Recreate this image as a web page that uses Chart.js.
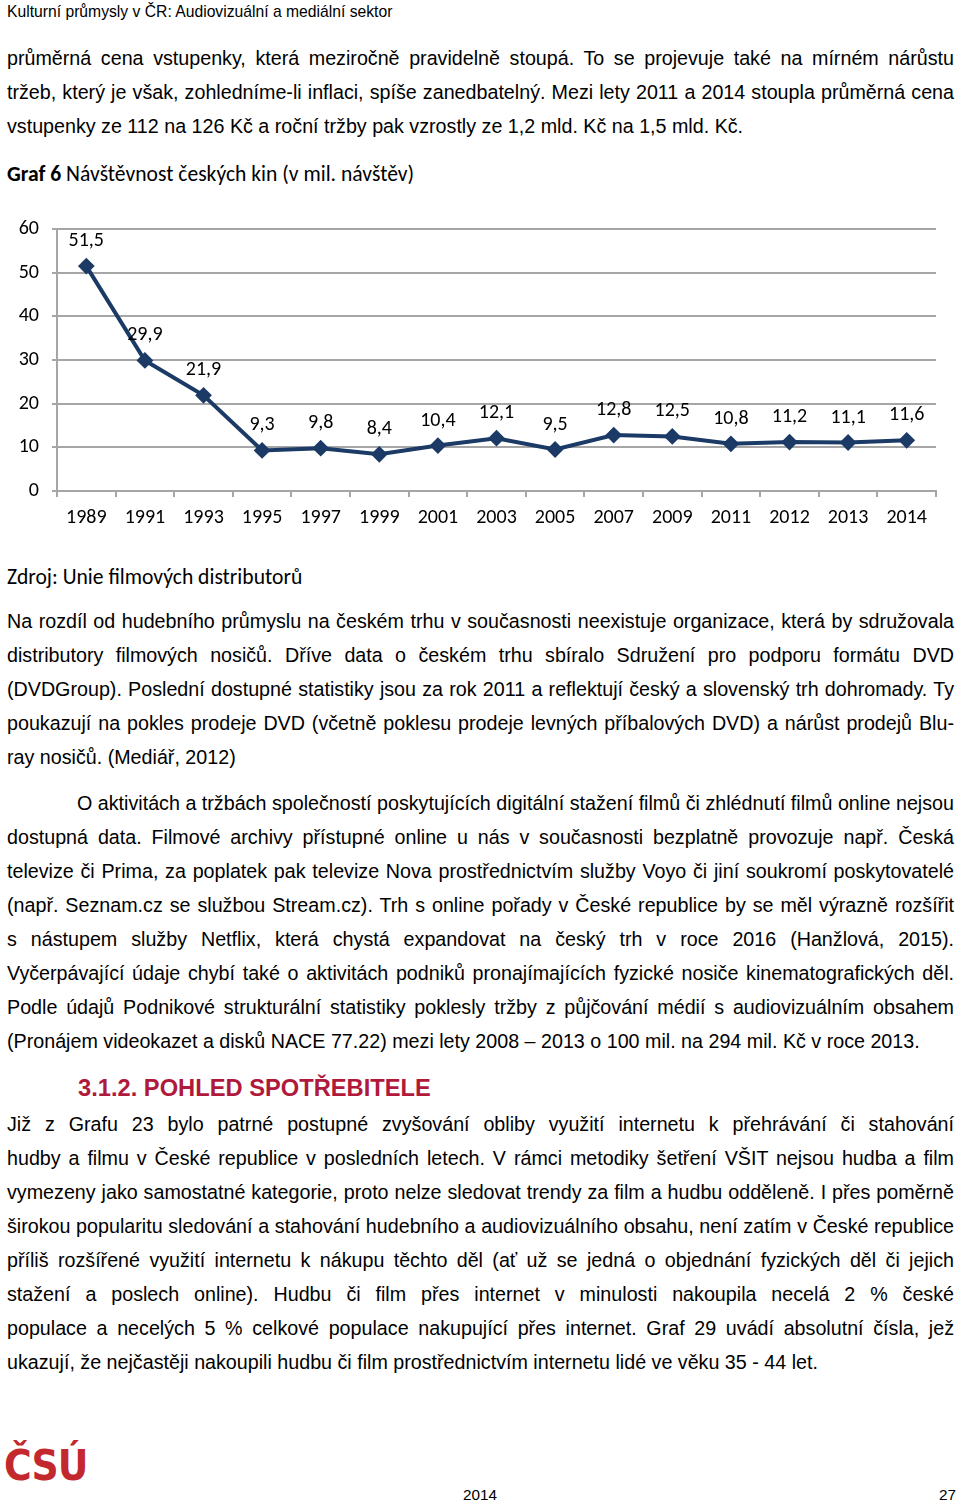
<!DOCTYPE html>
<html lang="cs">
<head>
<meta charset="utf-8">
<script src="https://cdn.jsdelivr.net/npm/chart.js@4/dist/chart.umd.min.js"></script>
<style>
  html, body { margin:0; padding:0; background:#fff; }
  body { width:960px; height:1504px; position:relative; overflow:hidden; font-family:"Liberation Sans", Arial, sans-serif; color:#000; }
  .l { position:absolute; left:7px; width:947px; font-size:19.7px; line-height:34px; height:34px; white-space:normal; }
  .j { text-align:justify; text-align-last:justify; }
  .cal { font-family: Carlito, Lato, "Open Sans", sans-serif; font-size:21.6px; }
  #hdr { position:absolute; left:7px; top:3px; font-size:15.7px; line-height:18px; }
  #head { position:absolute; left:78px; top:1072px; font-size:23.7px; font-weight:bold; color:#B0193B; line-height:32px; }
  #logo { position:absolute; left:4px; top:1436px; font-family:"DejaVu Sans Condensed","DejaVu Sans",sans-serif; font-weight:bold; font-size:42px; color:#C3282F; line-height:60px; letter-spacing:-1px; }
  #fy { position:absolute; left:463px; top:1486px; font-size:15.3px; line-height:18px; }
  #fp { position:absolute; left:939px; top:1486px; font-size:15.3px; line-height:18px; }
  #wrap { position:absolute; left:0; top:200px; width:960px; height:340px; }
</style>
</head>
<body>
<div id="hdr">Kulturní průmysly v ČR: Audiovizuální a mediální sektor</div>

<div class="l j" style="top:41px">průměrná cena vstupenky, která meziročně pravidelně stoupá. To se projevuje také na mírném nárůstu</div>
<div class="l j" style="top:75px">tržeb, který je však, zohledníme-li inflaci, spíše zanedbatelný. Mezi lety 2011 a 2014 stoupla průměrná cena</div>
<div class="l" style="top:109px">vstupenky ze 112 na 126 Kč a roční tržby pak vzrostly ze 1,2 mld. Kč na 1,5 mld. Kč.</div>

<div class="l cal" style="top:157px"><b>Graf 6</b> Návštěvnost českých kin (v mil. návštěv)</div>

<div id="wrap"><canvas id="c" width="960" height="340"></canvas></div>

<div class="l cal" style="top:560px">Zdroj: Unie filmových distributorů</div>

<div class="l j" style="top:604px">Na rozdíl od hudebního průmyslu na českém trhu v současnosti neexistuje organizace, která by sdružovala</div>
<div class="l j" style="top:638px">distributory filmových nosičů. Dříve data o českém trhu sbíralo Sdružení pro podporu formátu DVD</div>
<div class="l j" style="top:672px">(DVDGroup). Poslední dostupné statistiky jsou za rok 2011 a reflektují český a slovenský trh dohromady. Ty</div>
<div class="l j" style="top:706px">poukazují na pokles prodeje DVD (včetně poklesu prodeje levných příbalových DVD) a nárůst prodejů Blu-</div>
<div class="l" style="top:740px">ray nosičů. (Mediář, 2012)</div>

<div class="l j" style="top:786px;left:77px;width:877px">O aktivitách a tržbách společností poskytujících digitální stažení filmů či zhlédnutí filmů online nejsou</div>
<div class="l j" style="top:820px">dostupná data. Filmové archivy přístupné online u nás v současnosti bezplatně provozuje např. Česká</div>
<div class="l j" style="top:854px">televize či Prima, za poplatek pak televize Nova prostřednictvím služby Voyo či jiní soukromí poskytovatelé</div>
<div class="l j" style="top:888px">(např. Seznam.cz se službou Stream.cz). Trh s online pořady v České republice by se měl výrazně rozšířit</div>
<div class="l j" style="top:922px">s nástupem služby Netflix, která chystá expandovat na český trh v roce 2016 (Hanžlová, 2015).</div>
<div class="l j" style="top:956px">Vyčerpávající údaje chybí také o aktivitách podniků pronajímajících fyzické nosiče kinematografických děl.</div>
<div class="l j" style="top:990px">Podle údajů Podnikové strukturální statistiky poklesly tržby z půjčování médií s audiovizuálním obsahem</div>
<div class="l" style="top:1024px">(Pronájem videokazet a disků NACE 77.22) mezi lety 2008 – 2013 o 100 mil. na 294 mil. Kč v roce 2013.</div>

<div id="head">3.1.2. POHLED SPOTŘEBITELE</div>

<div class="l j" style="top:1107px">Již z Grafu 23 bylo patrné postupné zvyšování obliby využití internetu k přehrávání či stahování</div>
<div class="l j" style="top:1141px">hudby a filmu v České republice v posledních letech. V rámci metodiky šetření VŠIT nejsou hudba a film</div>
<div class="l j" style="top:1175px">vymezeny jako samostatné kategorie, proto nelze sledovat trendy za film a hudbu odděleně. I přes poměrně</div>
<div class="l j" style="top:1209px">širokou popularitu sledování a stahování hudebního a audiovizuálního obsahu, není zatím v České republice</div>
<div class="l j" style="top:1243px">příliš rozšířené využití internetu k nákupu těchto děl (ať už se jedná o objednání fyzických děl či jejich</div>
<div class="l j" style="top:1277px">stažení a poslech online). Hudbu či film přes internet v minulosti nakoupila necelá 2 % české</div>
<div class="l j" style="top:1311px">populace a necelých 5 % celkové populace nakupující přes internet. Graf 29 uvádí absolutní čísla, jež</div>
<div class="l" style="top:1345px">ukazují, že nejčastěji nakoupili hudbu či film prostřednictvím internetu lidé ve věku 35 - 44 let.</div>

<div id="logo">ČSÚ</div>
<div id="fy">2014</div>
<div id="fp">27</div>

<script>
const years = ['1989','1991','1993','1995','1997','1999','2001','2003','2005','2007','2009','2011','2012','2013','2014'];
const visits = [51.5, 29.9, 21.9, 9.3, 9.8, 8.4, 10.4, 12.1, 9.5, 12.8, 12.5, 10.8, 11.2, 11.1, 11.6];
const yMin = 0;
const yMax = 60;
const yStep = 10;

const NAVY = '#1B3A66';
const GRID = '#A6A6A6';
const CHART_FONT = { family: 'Carlito, Lato, "Open Sans", sans-serif', size: 20 };

const valueLabelPlugin = {
  id: 'valueLabels',
  afterDatasetsDraw(chart) {
    const ctx = chart.ctx;
    const meta = chart.getDatasetMeta(0);
    ctx.save();
    ctx.font = CHART_FONT.size + 'px ' + CHART_FONT.family;
    ctx.fillStyle = '#000';
    ctx.textAlign = 'center';
    ctx.textBaseline = 'middle';
    meta.data.forEach((el, i) => {
      const txt = String(chart.data.datasets[0].data[i]).replace('.', ',');
      ctx.fillText(txt, el.x, el.y - 25);
    });
    ctx.restore();
  }
};

new Chart(document.getElementById('c'), {
  type: 'line',
  data: {
    labels: years,
    datasets: [{
      data: visits,
      borderColor: NAVY,
      backgroundColor: NAVY,
      borderWidth: 4,
      tension: 0,
      pointStyle: 'rectRot',
      pointRadius: 7,
      pointBorderWidth: 2,
      pointBackgroundColor: NAVY,
      pointBorderColor: NAVY
    }]
  },
  options: {
    responsive: false,
    animation: false,
    devicePixelRatio: 1,
    layout: { padding: { top: 29, right: 24, bottom: 0, left: 0 } },
    plugins: { legend: { display: false }, tooltip: { enabled: false } },
    scales: {
      x: {
        offset: true,
        grid: { offset: true, drawOnChartArea: false, drawTicks: true, tickLength: 6, color: GRID, lineWidth: 2 },
        border: { color: GRID, width: 2 },
        ticks: { font: CHART_FONT, color: '#000', padding: 9, maxRotation: 0, autoSkip: false },
        afterFit: s => { s.height = 49; }
      },
      y: {
        min: yMin, max: yMax,
        grid: { color: GRID, lineWidth: 2, tickLength: 5 },
        border: { color: GRID, width: 2 },
        ticks: { stepSize: yStep, font: CHART_FONT, color: '#000', padding: 13 },
        afterFit: s => { s.width = 57; }
      }
    }
  },
  plugins: [valueLabelPlugin]
});
</script>
</body>
</html>
